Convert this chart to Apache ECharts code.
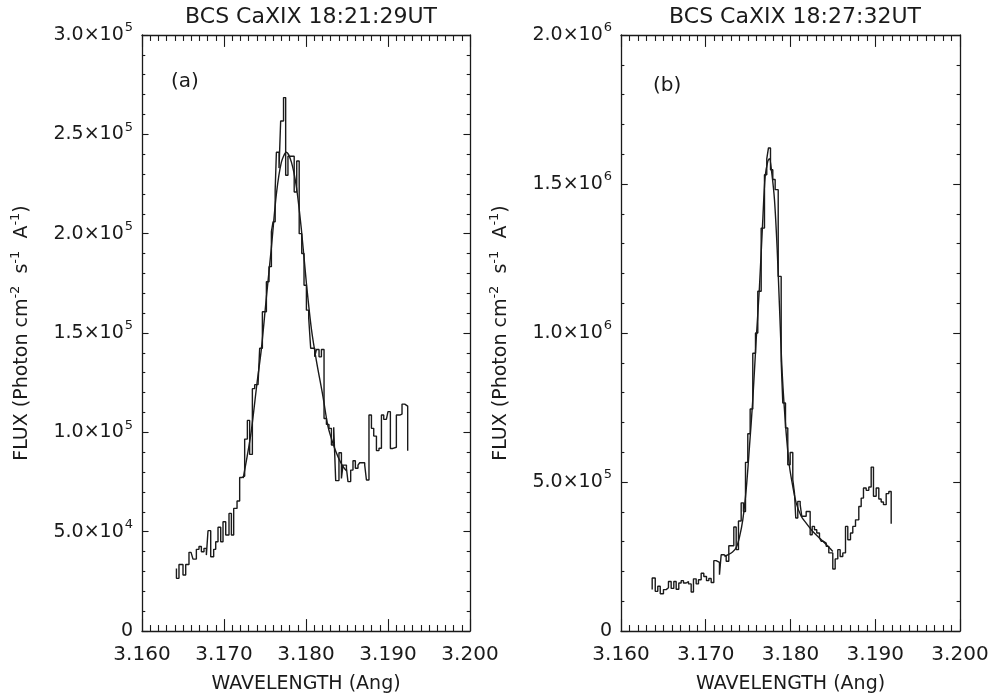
<!DOCTYPE html>
<html><head><meta charset="utf-8">
<script src="https://cdn.jsdelivr.net/npm/echarts/dist/echarts.min.js"></script>
<style>html,body{margin:0;padding:0;background:#fff}#c{width:992px;height:696px}</style>
</head><body><div id="c"></div>
<script>
// ---------- Panel (a) : 18:21:29 UT ----------
const titleA = 'BCS CaXIX 18:21:29UT';
const waveA = [3.16420,3.16420,3.16451,3.16500,3.16533,3.16573,3.16598,3.16622,3.16663,3.16695,3.16724,3.16756,3.16785,3.16805,3.16838,3.16874,3.16899,3.16927,3.16960,3.16988,3.17021,3.17061,3.17090,3.17118,3.17159,3.17191,3.17222,3.17252,3.17285,3.17313,3.17346,3.17374,3.17415,3.17435,3.17468,3.17517,3.17549,3.17578,3.17598,3.17624,3.17639,3.17671,3.17691,3.17726,3.17752,3.17780,3.17856,3.17887,3.17917,3.17948,3.17976,3.18005,3.18033,3.18057,3.18106,3.18127,3.18159,3.18188,3.18220,3.18249,3.18280,3.18310,3.18338,3.18362,3.18402,3.18432,3.18451,3.18493,3.18512,3.18545,3.18573,3.18602,3.18634,3.18655,3.18716,3.18737,3.18768,3.18798,3.18826,3.18859,3.18890,3.18920,3.18948,3.18980,3.19000,3.19029,3.19061,3.19102,3.19143,3.19171,3.19204,3.19240];
const fluxA = [31.5e3,26.5e3,33.5e3,28.2e3,33.5e3,39.6e3,39.0e3,36.2e3,41.1e3,42.5e3,39.9e3,41.6e3,38.2e3,50.5e3,37.4e3,41.1e3,44.9e3,52.2e3,44.9e3,55.0e3,48.3e3,59.2e3,48.3e3,61.7e3,65.4e3,77.3e3,78.0e3,96.6e3,106e3,88.9e3,122e3,124e3,123e3,142.3e3,160.7e3,175.8e3,183.4e3,201e3,206e3,222e3,241e3,233e3,256.7e3,268.5e3,229.4e3,239e3,221e3,236.6e3,200e3,190e3,174e3,161.5e3,157.4e3,142.3e3,138e3,141.7e3,138e3,141.7e3,107e3,104e3,102e3,93.6e3,102.5e3,75.7e3,89.7e3,76.8e3,83.5e3,81.9e3,75.2e3,81e3,85.7e3,81.9e3,83.5e3,84.7e3,83.5e3,76e3,108.7e3,102e3,98.1e3,90.8e3,92e3,108.7e3,106.5e3,105.9e3,110.4e3,91.9e3,92.5e3,108.7e3,109.2e3,114.2e3,113.2e3,90.7e3];
const fitWaveA = [3.17234,3.17283,3.17334,3.17402,3.17456,3.17517,3.17578,3.17639,3.17700,3.17761,3.17822,3.17883,3.17944,3.18005,3.18066,3.18127,3.18207,3.18268,3.18329,3.18390,3.18448,3.18496];
const fitFluxA = [77e3,88e3,101e3,124.6e3,142e3,168e3,193e3,220e3,236e3,241e3,236e3,223.5e3,202e3,175e3,152e3,136e3,118e3,103e3,94.4e3,87.7e3,83e3,80.5e3];
const yMantA = ['0','5.0','1.0','1.5','2.0','2.5','3.0'];
const yExpA  = ['','4','5','5','5','5','5'];

// ---------- Panel (b) : 18:27:32 UT ----------
const titleB = 'BCS CaXIX 18:27:32UT';
const waveB = [3.16368,3.16368,3.16404,3.16434,3.16463,3.16501,3.16533,3.16560,3.16592,3.16623,3.16651,3.16682,3.16710,3.16737,3.16769,3.16796,3.16828,3.16855,3.16887,3.16914,3.16946,3.16977,3.17009,3.17036,3.17064,3.17095,3.17123,3.17162,3.17182,3.17213,3.17241,3.17272,3.17331,3.17359,3.17386,3.17418,3.17445,3.17469,3.17496,3.17524,3.17555,3.17587,3.17614,3.17654,3.17693,3.17720,3.17740,3.17764,3.17791,3.17819,3.17855,3.17890,3.17909,3.17941,3.17968,3.17996,3.18027,3.18047,3.18062,3.18086,3.18114,3.18133,3.18185,3.18232,3.18256,3.18283,3.18310,3.18342,3.18362,3.18389,3.18421,3.18452,3.18499,3.18527,3.18558,3.18586,3.18617,3.18649,3.18676,3.18708,3.18735,3.18767,3.18806,3.18834,3.18861,3.18893,3.18924,3.18952,3.18979,3.19011,3.19042,3.19070,3.19097,3.19129,3.19160,3.19188];
const fluxB = [139e3,178e3,133e3,150e3,125e3,139e3,145e3,166e3,143e3,166e3,140e3,161e3,169e3,161e3,166e3,158e3,131e3,175e3,158e3,172e3,194e3,183e3,169e3,176e3,163e3,236e3,230e3,189e3,256e3,251e3,234e3,286e3,349e3,273e3,369e3,430e3,401e3,566e3,662e3,745e3,932e3,1000e3,1140e3,1352e3,1531e3,1584e3,1621e3,1548e3,1515e3,1481e3,1190e3,905e3,765e3,681e3,558e3,599e3,508e3,463e3,379e3,435e3,424e3,385e3,401e3,323e3,351e3,340e3,329e3,312e3,301e3,295e3,284e3,262e3,208e3,242e3,273e3,250e3,262e3,351e3,306e3,329e3,351e3,373e3,418e3,446e3,480e3,472e3,483e3,550e3,452e3,480e3,443e3,433e3,424e3,461e3,468e3,360e3];
const fitWaveB = [3.17221,3.17316,3.17363,3.17398,3.17437,3.17477,3.17516,3.17555,3.17595,3.17634,3.17673,3.17701,3.17732,3.17752,3.17779,3.17811,3.17843,3.17870,3.17902,3.17949,3.17988,3.18027,3.18067,3.18126,3.18185,3.18263,3.18342,3.18421,3.18499];
const fitFluxB = [250e3,265e3,282e3,315e3,373e3,474e3,619e3,776e3,977e3,1156e3,1380e3,1525e3,1576e3,1585e3,1537e3,1447e3,1280e3,1089e3,866e3,664e3,552e3,485e3,430e3,385e3,362e3,334e3,312e3,290e3,267e3];
const yMantB = ['0','5.0','1.0','1.5','2.0'];
const yExpB  = ['','5','6','6','6'];

const xTickLabels = ['3.160','3.170','3.180','3.190','3.200'];
const xName = 'WAVELENGTH (Ang)';
const yName = 'FLUX (Photon cm{s|-2}  s{s|-1}  A{s|-1})';

// ---------- styling ----------
const FONT = 'DejaVu Sans';
const INK = '#1a1a1a';
const zip = (xs, ys) => xs.map((x, i) => [x, ys[i]]);

function yLabelFmt(mant, exp, step) {
  return function (v) {
    const i = Math.round(v / step);
    if (!exp[i]) return '{m|' + mant[i] + '}';
    return '{m|' + mant[i] + '×10}{e|' + exp[i] + '}';
  };
}
const richY = {
  m: { fontSize: 19, fontFamily: FONT, color: INK },
  e: { fontSize: 13, fontFamily: FONT, color: INK, padding: [0, 0, 14, 1] }
};

function xAxes(gi, plotH) {
  const base = {
    type: 'value', gridIndex: gi, min: 3.16, max: 3.20, interval: 0.01,
    axisLine: { onZero: false, lineStyle: { color: INK, width: 1.3 } },
    axisTick: { inside: true, length: plotH * 0.02, lineStyle: { color: INK, width: 1.1 } },
    minorTick: { show: true, splitNumber: 10, length: plotH * 0.01, lineStyle: { color: INK, width: 1.1 } },
    splitLine: { show: false }, minorSplitLine: { show: false }
  };
  return [
    Object.assign({}, base, {
      position: 'bottom',
      axisLabel: { show: true, margin: 14, fontSize: 20, fontFamily: FONT, color: INK,
        formatter: v => xTickLabels[Math.round((v - 3.16) / 0.01)] },
      name: xName, nameLocation: 'middle', nameGap: 44, nameMoveOverlap: false,
      nameTextStyle: { fontSize: 19, fontFamily: FONT, color: INK }
    }),
    Object.assign({}, base, { position: 'top', axisLabel: { show: false } })
  ];
}
function yAxes(gi, max, step, mant, exp, plotW) {
  const base = {
    type: 'value', gridIndex: gi, min: 0, max: max, interval: step,
    axisLine: { onZero: false, lineStyle: { color: INK, width: 1.3 } },
    axisTick: { inside: true, length: plotW * 0.02, lineStyle: { color: INK, width: 1.1 } },
    minorTick: { show: true, splitNumber: 5, length: plotW * 0.01, lineStyle: { color: INK, width: 1.1 } },
    splitLine: { show: false }, minorSplitLine: { show: false }
  };
  return [
    Object.assign({}, base, {
      position: 'left',
      axisLabel: { show: true, margin: 9, formatter: yLabelFmt(mant, exp, step), rich: richY },
      name: yName, nameLocation: 'middle', nameRotate: 90, nameGap: 106, nameMoveOverlap: false,
      nameTextStyle: { fontSize: 19, fontFamily: FONT, color: INK,
        rich: { s: { fontSize: 13, fontFamily: FONT, color: INK, padding: [0, 0, 14, 0] } } }
    }),
    Object.assign({}, base, { position: 'right', axisLabel: { show: false } })
  ];
}

const gA = { left: 142, top: 35, width: 328, height: 596 };
const gB = { left: 621, top: 35, width: 339, height: 596 };

const lineBase = { type: 'line', showSymbol: false, symbol: 'none', animation: false,
  lineStyle: { color: INK, width: 1.4 }, z: 3 };

const chart = echarts.init(document.getElementById('c'), null, { renderer: 'canvas' });
chart.setOption({
  animation: false,
  backgroundColor: '#fff',
  title: [
    { text: titleA, left: 306, top: 1, textAlign: 'center',
      textStyle: { fontSize: 22, fontWeight: 'normal', fontFamily: FONT, color: INK } },
    { text: titleB, left: 790, top: 1, textAlign: 'center',
      textStyle: { fontSize: 22, fontWeight: 'normal', fontFamily: FONT, color: INK } },
    { text: '(a)', left: 166, top: 67,
      textStyle: { fontSize: 20, fontWeight: 'normal', fontFamily: FONT, color: INK } },
    { text: '(b)', left: 648, top: 71,
      textStyle: { fontSize: 20, fontWeight: 'normal', fontFamily: FONT, color: INK } }
  ],
  grid: [
    Object.assign({ outerBoundsMode: 'none', containLabel: false }, gA),
    Object.assign({ outerBoundsMode: 'none', containLabel: false }, gB)
  ],
  xAxis: [].concat(xAxes(0, gA.height), xAxes(1, gB.height)),
  yAxis: [].concat(yAxes(0, 3e5, 5e4, yMantA, yExpA, gA.width), yAxes(1, 2e6, 5e5, yMantB, yExpB, gB.width)),
  series: [
    Object.assign({}, lineBase, { name: 'data a', xAxisIndex: 0, yAxisIndex: 0, step: 'end', data: zip(waveA, fluxA) }),
    Object.assign({}, lineBase, { name: 'fit a', xAxisIndex: 0, yAxisIndex: 0, smooth: 0.3, data: zip(fitWaveA, fitFluxA) }),
    Object.assign({}, lineBase, { name: 'data b', xAxisIndex: 2, yAxisIndex: 2, step: 'end', data: zip(waveB, fluxB) }),
    Object.assign({}, lineBase, { name: 'fit b', xAxisIndex: 2, yAxisIndex: 2, smooth: 0.3, data: zip(fitWaveB, fitFluxB) })
  ]
});
</script></body></html>
